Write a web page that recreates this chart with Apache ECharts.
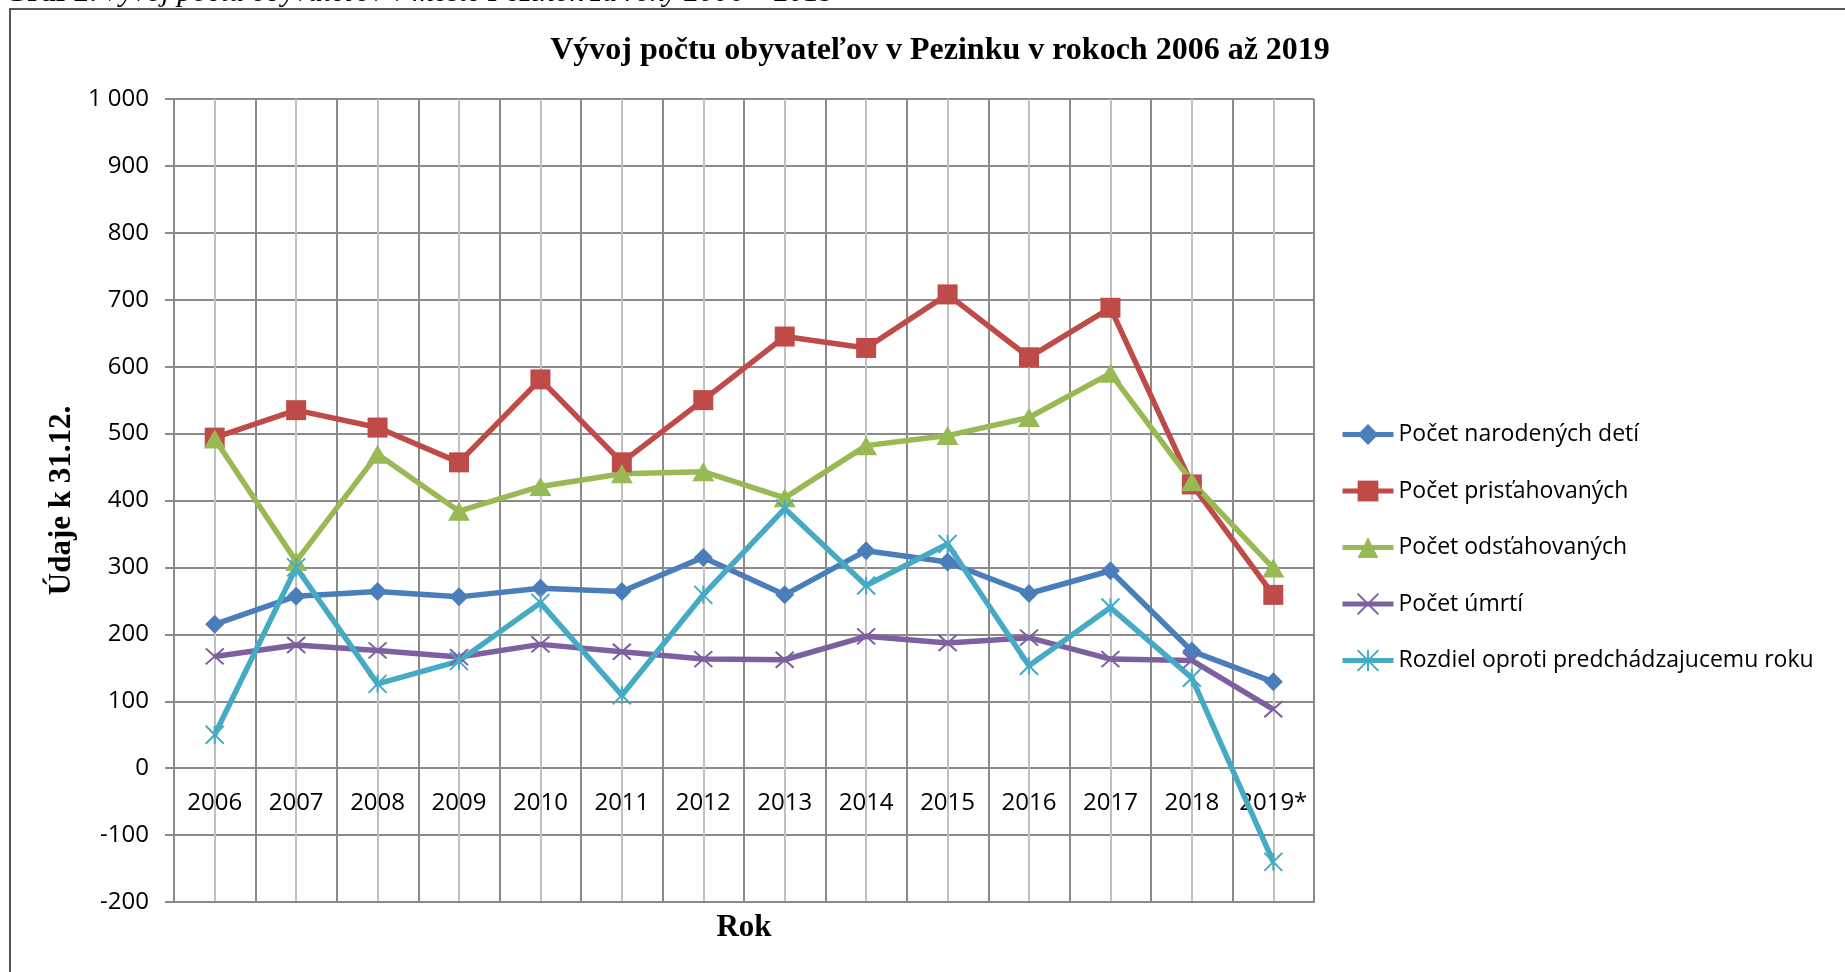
<!DOCTYPE html>
<html>
<head>
<meta charset="utf-8">
<title>Vývoj počtu obyvateľov v Pezinku</title>
<script src="https://cdn.jsdelivr.net/npm/echarts@6/dist/echarts.min.js"></script>
<style>
  html, body { margin: 0; padding: 0; background: #fff; }
  #graf { width: 1845px; height: 972px; }
</style>
</head>
<body>
<div id="graf"></div>
<script>
// roky
var roky = ["2006", "2007", "2008", "2009", "2010", "2011", "2012", "2013", "2014", "2015", "2016", "2017", "2018", "2019*"];

// udaje k 31.12.
var narodeni = [215, 257, 264, 256, 269, 264, 315, 259, 325, 308, 261, 295, 175, 129];
var pristahovani = [494, 535, 509, 457, 581, 457, 550, 645, 628, 708, 614, 688, 424, 259];
var odstahovani = [492, 309, 469, 384, 421, 440, 443, 404, 482, 497, 524, 590, 428, 299];
var umrtia = [167, 184, 176, 166, 185, 174, 163, 162, 197, 187, 195, 163, 161, 88];
var rozdiel = [50, 300, 126, 160, 247, 109, 259, 388, 273, 335, 153, 240, 135, -140];

var nazvy = ["Počet narodených detí", "Počet prisťahovaných", "Počet odsťahovaných", "Počet úmrtí", "Rozdiel oproti predchádzajucemu roku"];

var sivaTmava = "#8a8a8a";
var sivaSvetla = "#c0c0c0";
var pismo = "'Open Sans', 'Noto Sans', sans-serif";
var serif = "'Liberation Serif', 'DejaVu Serif', serif";

function seria(meno, data, farba, symbol, velkost, tenky) {
  return {
    name: meno,
    type: "line",
    data: data,
    animation: false,
    symbol: symbol,
    symbolSize: velkost,
    showAllSymbol: true,
    lineStyle: { color: farba, width: 5.5 },
    itemStyle: tenky
      ? { color: farba, borderColor: farba, borderWidth: 2 }
      : { color: farba, borderWidth: 0 },
    emphasis: { disabled: true },
    z: 3
  };
}

var myChart = echarts.init(document.getElementById("graf"));
myChart.setOption({
  backgroundColor: "#fff",
  animation: false,
  title: {
    text: "Vývoj počtu obyvateľov v Pezinku v rokoch 2006 až 2019",
    left: 935,
    top: 30,
    textAlign: "center",
    textStyle: { fontFamily: serif, fontWeight: "bold", fontSize: 32, color: "#000" }
  },
  legend: {
    orient: "vertical",
    left: 1335,
    top: 418,
    itemWidth: 51,
    itemHeight: 26,
    itemGap: 33.5,
    data: nazvy,
    lineStyle: { width: 5 },
    textStyle: { fontFamily: pismo, fontSize: 23, color: "#000" }
  },
  grid: { left: 174, right: 531, top: 99, bottom: 70, containLabel: false, outerBoundsMode: "none" },
  xAxis: [
    {
      type: "category",
      data: roky,
      boundaryGap: true,
      z: 2,
      axisLine: { show: true, onZero: false, lineStyle: { color: sivaTmava, width: 2 } },
      axisTick: { show: false },
      // popisky rokov sedia pod nulovou čiarou
      axisLabel: { interval: 0, margin: -111, fontFamily: pismo, fontSize: 24, color: "#000" },
      splitLine: { show: true, interval: 0, lineStyle: { color: sivaTmava, width: 2 } },
      name: "Rok",
      nameLocation: "middle",
      nameGap: 10,
      nameMoveOverlap: false,
      nameTextStyle: { fontFamily: serif, fontWeight: "bold", fontSize: 31, color: "#000" }
    },
    {
      type: "value",
      min: 0,
      max: 28,
      interval: 1,
      z: 1,
      axisLine: { show: false, onZero: false },
      axisTick: { show: false },
      axisLabel: { show: false },
      splitLine: { show: true, lineStyle: { color: sivaSvetla, width: 2 } }
    }
  ],
  yAxis: {
    type: "value",
    min: -200,
    max: 1000,
    interval: 100,
    axisLine: { show: true, onZero: false, lineStyle: { color: sivaTmava, width: 2 } },
    axisTick: { show: true, inside: false, length: 9, lineStyle: { color: sivaTmava, width: 2 } },
    axisLabel: {
      margin: 25,
      fontFamily: pismo,
      fontSize: 24,
      color: "#000",
      formatter: function (v) {
        return v >= 1000 ? Math.floor(v / 1000) + " " + String(v % 1000).padStart(3, "0") : String(v);
      }
    },
    splitLine: { show: true, lineStyle: { color: sivaTmava, width: 2 } },
    name: "Údaje k 31.12.",
    nameLocation: "middle",
    nameRotate: 90,
    nameGap: 97,
    nameMoveOverlap: false,
    nameTextStyle: { fontFamily: serif, fontWeight: "bold", fontSize: 31, color: "#000" }
  },
  graphic: [
    {
      type: "rect",
      shape: { x: 10, y: 9, width: 2000, height: 1000 },
      style: { fill: "none", stroke: "#555", lineWidth: 2 },
      silent: true,
      z: -1
    },
    {
      type: "text",
      x: 4,
      y: -7,
      style: {
        text: "{b|Graf 2:} {i|Vývoj počtu obyvateľov v meste Pezinok za roky 2006 – 2019}",
        verticalAlign: "middle",
        rich: {
          b: { fontFamily: serif, fontWeight: "bold", fontSize: 30, fill: "#000" },
          i: { fontFamily: serif, fontStyle: "italic", fontSize: 30, fill: "#000" }
        }
      },
      silent: true
    }
  ],
  series: [
    seria(nazvy[0], narodeni, "#4a7ebb", "diamond", 19, false),
    seria(nazvy[1], pristahovani, "#be4b48", "rect", 20, false),
    seria(nazvy[2], odstahovani, "#98b954", "triangle", [22, 19], false),
    seria(nazvy[3], umrtia, "#7d60a0", "path://M0,0L10,10M10,0L0,10", [18, 16], true),
    seria(nazvy[4], rozdiel, "#46aac5", "path://M0,0L10,10M10,0L0,10M5,0L5,10", [18, 18], true)
  ]
});
window.onresize = myChart.resize;
</script>
</body>
</html>
